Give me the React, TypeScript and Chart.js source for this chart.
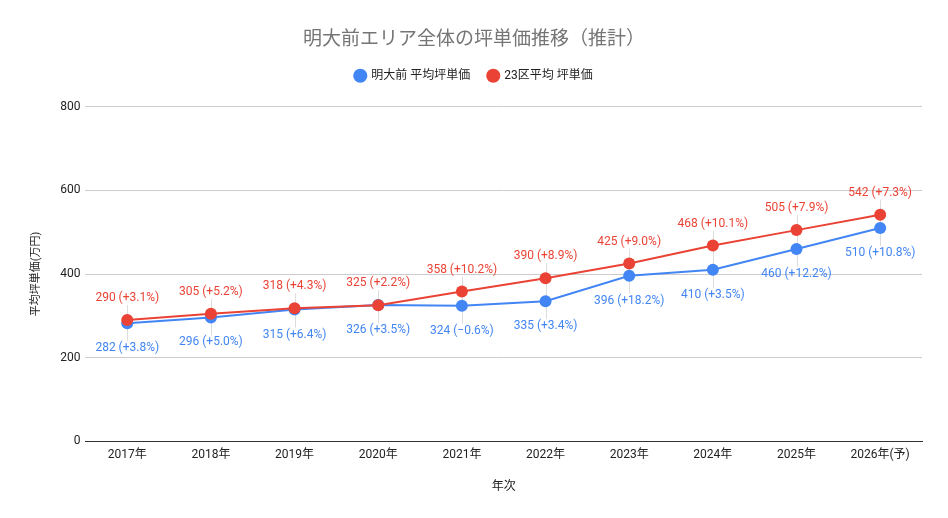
import React, { useEffect, useRef } from "react";
import { Chart, registerables } from "chart.js";

Chart.register(...registerables);

const years = ["2017年", "2018年", "2019年", "2020年", "2021年", "2022年", "2023年", "2024年", "2025年", "2026年(予)"];
const meidaimaeValues = [282, 296, 315, 326, 324, 335, 396, 410, 460, 510];
const meidaimaePct = [3.8, 5.0, 6.4, 3.5, -0.6, 3.4, 18.2, 3.5, 12.2, 10.8];
const ku23Values = [290, 305, 318, 325, 358, 390, 425, 468, 505, 542];
const ku23Pct = [3.1, 5.2, 4.3, 2.2, 10.2, 8.9, 9.0, 10.1, 7.9, 7.3];
const yTicks = [0, 200, 400, 600, 800];

const FONT = "Roboto, 'Noto Sans CJK JP', sans-serif";
const BLUE = "#4285F4";
const RED = "#EA4335";

function fmt(v: number, p: number) {
  const sign = p < 0 ? "\u2212" : "+";
  return `${v} (${sign}${Math.abs(p).toFixed(1)}%)`;
}

const legendMargin = {
  id: "legendMargin",
  beforeInit(chart: any) {
    const legend = chart.legend;
    if (!legend) return;
    const orig = legend.fit;
    legend.fit = function () {
      orig.bind(legend)();
      this.height += 15;
    };
  },
};

const labelPlugin = {
  id: "pointLabels",
  beforeDatasetsDraw(chart: any) {
    const ctx = chart.ctx;
    const red = chart.getDatasetMeta(0).data;
    const blue = chart.getDatasetMeta(1).data;
    ctx.save();
    ctx.strokeStyle = "#dddddd";
    ctx.lineWidth = 1;
    for (let i = 0; i < red.length; i++) {
      const x = Math.round(red[i].x) + 0.5;
      const top = Math.min(red[i].y, blue[i].y) - 15;
      const bot = Math.max(red[i].y, blue[i].y) + 18;
      ctx.beginPath();
      ctx.moveTo(x, top);
      ctx.lineTo(x, bot);
      ctx.stroke();
    }
    ctx.restore();
  },
  afterDatasetsDraw(chart: any) {
    const ctx = chart.ctx;
    const red = chart.getDatasetMeta(0).data;
    const blue = chart.getDatasetMeta(1).data;
    ctx.save();
    ctx.font = `12px ${FONT}`;
    ctx.textAlign = "center";
    ctx.textBaseline = "middle";
    for (let i = 0; i < red.length; i++) {
      ctx.fillStyle = RED;
      ctx.fillText(fmt(ku23Values[i], ku23Pct[i]), red[i].x, red[i].y - 22);
      ctx.fillStyle = BLUE;
      ctx.fillText(fmt(meidaimaeValues[i], meidaimaePct[i]), blue[i].x, blue[i].y + 25);
    }
    ctx.restore();
  },
};

export default function App() {
  const ref = useRef<HTMLCanvasElement | null>(null);
  useEffect(() => {
    if (!ref.current) return;
    const chart = new Chart(ref.current, {
      type: "line",
      data: {
        labels: years,
        datasets: [
          {
            label: "23区平均 坪単価",
            data: ku23Values,
            borderColor: RED,
            backgroundColor: RED,
            borderWidth: 2,
            pointRadius: 6,
            pointHoverRadius: 6,
            pointBorderWidth: 0,
            tension: 0,
          },
          {
            label: "明大前 平均坪単価",
            data: meidaimaeValues,
            borderColor: BLUE,
            backgroundColor: BLUE,
            borderWidth: 2,
            pointRadius: 6,
            pointHoverRadius: 6,
            pointBorderWidth: 0,
            tension: 0,
          },
        ],
      },
      plugins: [legendMargin, labelPlugin],
      options: {
        responsive: true,
        maintainAspectRatio: false,
        animation: false,
        layout: { padding: { left: 26, right: 26, top: 14, bottom: 20 } },
        plugins: {
          title: {
            display: true,
            text: "明大前エリア全体の坪単価推移（推計）",
            color: "#757575",
            font: { family: FONT, size: 19, weight: "normal" },
            padding: { top: 15, bottom: 0 },
          },
          legend: {
            display: true,
            reverse: true,
            labels: {
              usePointStyle: true,
              pointStyle: "circle",
              boxWidth: 10,
              boxHeight: 10,
              color: "#222",
              font: { family: FONT, size: 12 },
              padding: 18,
            },
          },
          tooltip: { enabled: false },
        },
        scales: {
          x: {
            offset: true,
            grid: { display: false, drawTicks: false },
            border: { display: true, color: "#333", width: 1 },
            ticks: { color: "#222", font: { family: FONT, size: 12 }, padding: 7 },
            title: {
              display: true,
              text: "年次",
              color: "#222",
              font: { family: FONT, size: 12 },
              padding: { top: 10 },
            },
          },
          y: {
            min: 0,
            max: 800,
            afterBuildTicks: (axis: any) => {
              axis.ticks = yTicks.map((v) => ({ value: v }));
            },
            grid: {
              color: (c: any) => (c.tick && c.tick.value === 0 ? "rgba(0,0,0,0)" : "#cccccc"),
              drawTicks: false,
            },
            border: { display: false },
            ticks: { color: "#222", font: { family: FONT, size: 12 }, padding: 5 },
            title: {
              display: true,
              text: "平均坪単価(万円)",
              color: "#222",
              font: { family: FONT, size: 11 },
              padding: { bottom: 12 },
            },
          },
        },
      },
    });
    return () => chart.destroy();
  }, []);
  return (
    <div style={{ position: "fixed", left: 0, top: 0, width: 948, height: 518, background: "#fff" }}>
      <canvas ref={ref} />
    </div>
  );
}
